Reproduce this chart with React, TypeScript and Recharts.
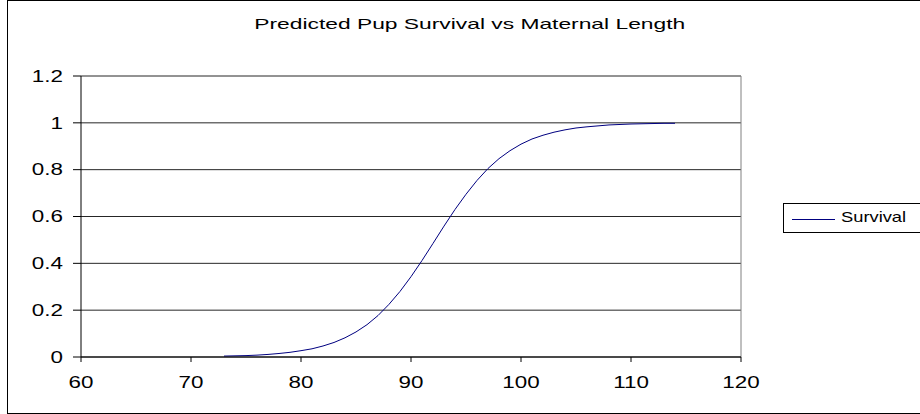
import { LineChart, Line, XAxis, YAxis, CartesianGrid, ReferenceLine } from 'recharts';

const lengths = [
  73, 74, 75, 76, 77, 78, 79, 80, 81, 82, 83, 84, 85, 86, 87, 88, 89, 90, 91, 92, 93,
  94, 95, 96, 97, 98, 99, 100, 101, 102, 103, 104, 105, 106, 107, 108, 109, 110, 111, 112, 113, 114,
];
const survival = [
  0.004, 0.005, 0.006, 0.008, 0.011, 0.015, 0.02, 0.027, 0.035, 0.047, 0.062, 0.082, 0.107,
  0.138, 0.177, 0.225, 0.28, 0.343, 0.412, 0.485, 0.559, 0.63, 0.695, 0.754, 0.805, 0.847,
  0.881, 0.909, 0.931, 0.947, 0.96, 0.97, 0.978, 0.983, 0.987, 0.991, 0.993, 0.995, 0.996,
  0.997, 0.998, 0.998,
];
const xTicks = [60, 70, 80, 90, 100, 110, 120];
const yTicks = [0, 0.2, 0.4, 0.6, 0.8, 1, 1.2];
const seriesName = 'Survival';
const title = 'Predicted Pup Survival vs Maternal Length';

const data = lengths.map((length, i) => ({ length, survival: survival[i] }));

const FONT = '"Liberation Sans", Arial, sans-serif';

function XTick({ x, y, payload }: any) {
  return (
    <g transform={`translate(${x},${y})`}>
      <text transform="scale(1.4,1)" textAnchor="middle" dy="0.71em" fontSize={16} fill="#000" fontFamily={FONT}>
        {payload.value}
      </text>
    </g>
  );
}

function YTick({ x, y, payload }: any) {
  return (
    <g transform={`translate(${x},${y})`}>
      <text transform="scale(1.4,1)" textAnchor="end" dy="0.355em" fontSize={16} fill="#000" fontFamily={FONT}>
        {payload.value}
      </text>
    </g>
  );
}

function LegendBox() {
  return (
    <div
      style={{
        position: 'absolute',
        left: 783,
        top: 203,
        width: 160,
        height: 30,
        boxSizing: 'border-box',
        border: '1px solid #000',
        background: '#fff',
      }}
    >
      <svg width={50} height={28} style={{ position: 'absolute', left: 8, top: 0 }}>
        <line x1={0} x2={43} y1={15.5} y2={15.5} stroke="#000080" strokeWidth={1} />
      </svg>
      <span
        style={{
          position: 'absolute',
          left: 57,
          top: 5,
          fontSize: 15,
          lineHeight: '15px',
          fontFamily: FONT,
          color: '#000',
          display: 'inline-block',
          transform: 'scaleX(1.22)',
          transformOrigin: 'left center',
          whiteSpace: 'nowrap',
        }}
      >
        {seriesName}
      </span>
    </div>
  );
}

export default function App() {
  return (
    <div style={{ position: 'absolute', left: 0, top: 0, width: 920, height: 414, overflow: 'hidden', background: '#fff' }}>
      <div
        style={{
          position: 'absolute',
          left: 7,
          top: 0,
          width: 940,
          height: 414,
          boxSizing: 'border-box',
          border: '1px solid #000',
        }}
      />
      <div
        style={{
          position: 'absolute',
          left: 0,
          top: 16,
          width: 939,
          textAlign: 'center',
          fontFamily: FONT,
          fontSize: 15,
          lineHeight: '15px',
          color: '#000',
        }}
      >
        <span style={{ display: 'inline-block', transform: 'scaleX(1.52)', whiteSpace: 'nowrap' }}>{title}</span>
      </div>
      <div style={{ position: 'absolute', left: 0, top: 0 }}>
        <LineChart width={920} height={414} data={data} margin={{ top: 76, right: 179, bottom: 27, left: 21 }}>
          <CartesianGrid horizontal vertical={false} stroke="#000" strokeOpacity={0.85} />
          <XAxis
            dataKey="length"
            type="number"
            domain={[60, 120]}
            ticks={xTicks}
            height={30}
            tickSize={5}
            tickMargin={15}
            stroke="#000"
            tick={<XTick />}
            interval={0}
          />
          <YAxis
            type="number"
            domain={[0, 1.2]}
            ticks={yTicks}
            width={60}
            tickSize={8}
            tickMargin={10}
            stroke="#000"
            tick={<YTick />}
            interval={0}
          />
          <ReferenceLine x={120} stroke="#808080" />
          <Line
            type="linear"
            dataKey="survival"
            name={seriesName}
            stroke="#000080"
            strokeWidth={1}
            dot={false}
            isAnimationActive={false}
          />
        </LineChart>
      </div>
      <LegendBox />
    </div>
  );
}
